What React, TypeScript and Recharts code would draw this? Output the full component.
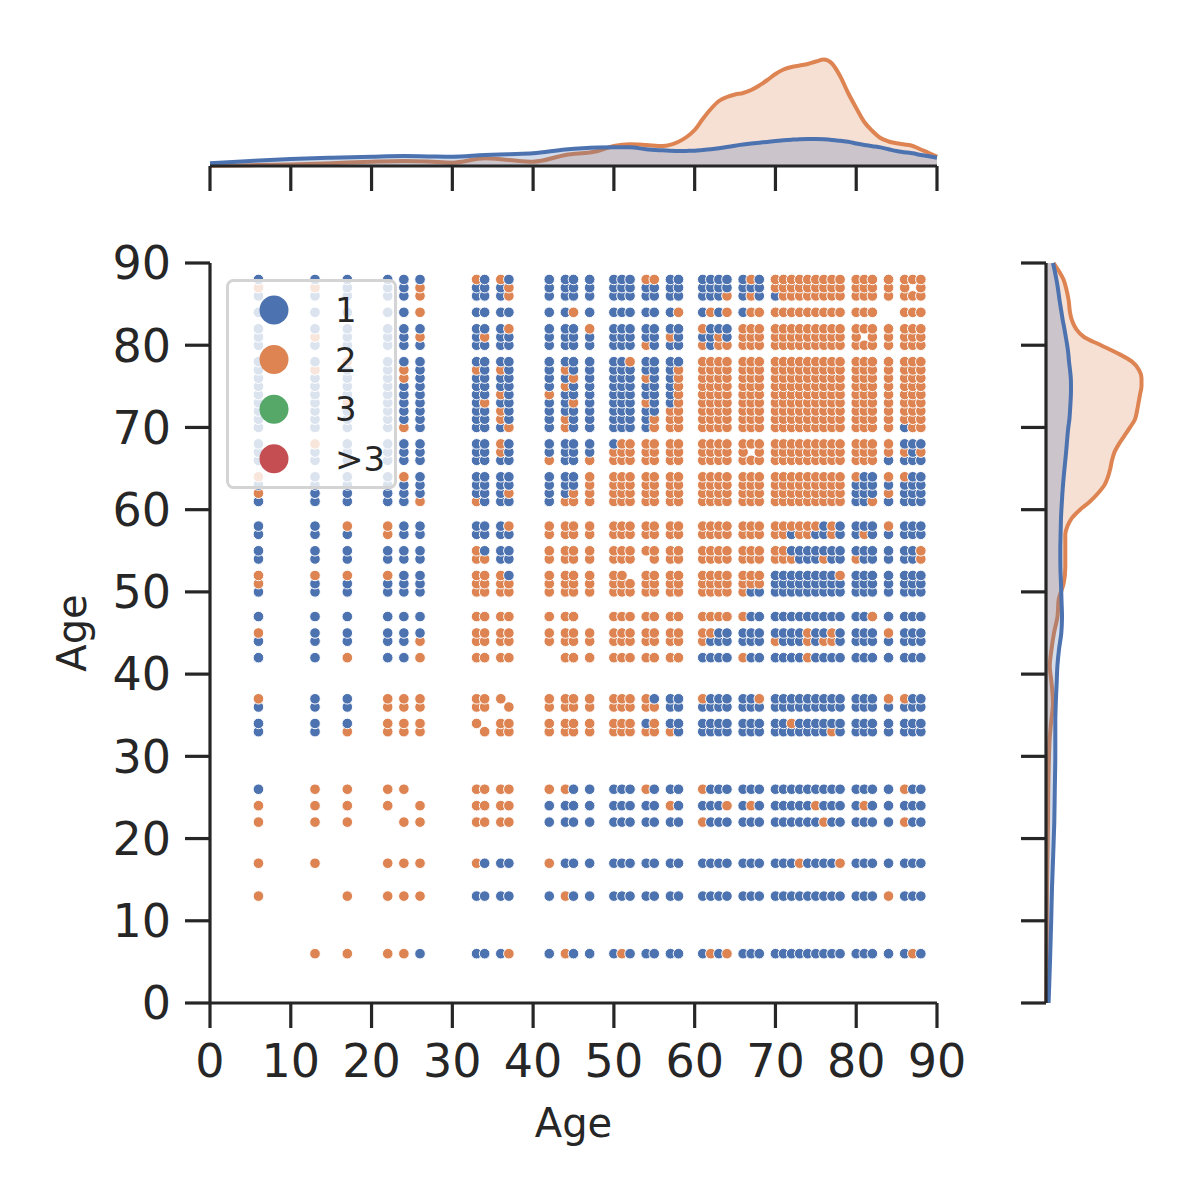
import React from 'react';
import { ScatterChart, Scatter, XAxis, YAxis, Legend, Label, AreaChart, Area } from 'recharts';

// ---------- data ----------
// Ages present on both axes (columns left→right, rows bottom→top)
const AGES = [6, 13, 17, 22, 24, 26, 33, 34, 36, 37, 42, 44, 45, 47, 50, 51, 52, 54, 55, 57, 58,
  61, 62, 63, 64, 66, 67, 68, 70, 71, 72, 73, 74, 75, 76, 77, 78, 80, 81, 82, 84, 86, 87, 88];

// Hue of each (x, y) point, rows listed from the top (age 88) to the bottom (age 6).
// b = "1", o = "2", . = no point. Spaces only separate the column clusters.
const HUE_GRID = [
  'b b b bbb obob bbbb bbboobb bbbb bob ooooooooo ooo o ooo', // 88
  'o o b bbo bbbo bbbb bbbbbbb bbbb bbb ooooooooo ooo o o.o', // 87
  'b b b bbo bbbo bbbb bbbbbbb bbbo bob boooooooo ooo o ooo', // 86
  'b b b bbo bbbb bbob bbbbbbo bobo boo ooooooooo ooo . ooo', // 84
  'b b b bbb bbbo bbbo bbbbbbb obbb ooo ooooooooo ooo o ooo', // 82
  'b o b bbo bobb bbbb bbbbbob bbob ooo ooooooooo o.o o ooo', // 81
  'b b b bbb bbbb bbbb bbbobbb oboo ooo ooooooooo ooo o ooo', // 80
  'b b o bbb bbbb bbbb bbobbbb oooo ooo ooooooooo ooo o ooo', // 78
  'b o b bob obob bobb bbbbbbo oooo ooo ooooooooo ooo o ooo', // 77
  'b b b bob bbbb bbob bbbobbo oooo ooo ooooooooo ooo o ooo', // 76
  'b b b bbb bbbb bobb bbbbbbo oooo ooo ooooooooo ooo o ooo', // 75
  'b b b bbb bbob obbb bbbbbbo oooo ooo ooooooooo ooo o ooo', // 74
  'b b o bbb bobb bbob bbbobbo oooo ooo ooooooooo ooo o ooo', // 73
  'b b b bbb bbob bbbb bbbbboo oooo ooo ooooooooo ooo o ooo', // 72
  'b b b bbb bbob bobb bbbbooo oooo ooo ooooooooo ooo o ooo', // 71
  'b b b bob bbbo bobb bbbbooo oooo ooo ooooooooo ooo o boo', // 70
  'b o b bbb bbob bbbb boooooo oooo ooo ooooooooo ooo o bbb', // 68
  'b b b bbb bbob bbbb ooooooo oooo o.o ooooooooo ooo o obo', // 67
  'b b b bbb bbbb obbo ooooooo oooo ooo ooooooooo ooo b bbb', // 66
  'o b b bob bbbb bbbo ooooooo oooo ooo ooooooooo obb o obb', // 64
  'b b b bbb bbbb bbbo ooooooo oooo ooo ooooooooo bbb b bbb', // 63
  'o b b bbb bbbo bboo ooooooo oooo ooo ooooooooo bbb o bbb', // 62
  'b b b bbo obbb booo ooooooo oooo ooo ooooooooo bbo b bbb', // 61
  'b b o obb bbbo oooo ooooooo oooo ooo oooooobob bbb o bbb', // 58
  'b b b obb bbbb oooo ooooooo oooo ooo ooboobbob bob b bbb', // 57
  'b b b bbb obbb oooo ooooooo oooo ooo oobbbbbbb bbb b bbo', // 55
  'b b b bbb oobb oooo ooo.ooo oooo ooo ooobbbobb obb b bbo', // 54
  'o o o obb ooob oooo oo.oooo oooo ooo bbbbbbbbo bbb b bbb', // 52
  'o b b bbb oooo oooo ooooooo oooo ooo bbbbbbbbb bbb b bbb', // 51
  'b b b bbb oooo oooo ooooooo oooo obb bbbbbbbbb bbb b bbb', // 50
  'b b b bbb oooo ooo. ooooooo oooo obb bbbbbbbbb bbo b bbb', // 47
  'o b b bbb oooo oooo ooooooo oobb bbb bbbbobbob bbb o bbb', // 45
  'b b b bbo oooo oooo ooooooo obbb bbb obbboboob bbb b bbb', // 44
  'b b o bbo oooo .ooo ooooooo bbbb obb bbbbobbbb bbb b bbb', // 42
  'o b b ooo ooo. oooo oooobbb obbb bbo bbbbbbbbb bbb o obb', // 37
  'b b b ooo oo.o oooo ooooobb bbbb bbb bbbbbbbbb bbb b bbb', // 36
  'b b b ooo o.oo oooo ooobobb bbbb bbb bbobbbbbb bbb b bbb', // 34
  'b b o ooo .ooo oooo oooooob bbbb bbb bbbbbbbob bbb b bbb', // 33
  'b o o oo. oooo oobb bbbobbb obbb bbb bbbbbbbbb bbb b obb', // 26
  'o o o o.o oooo bbbb bbbbbob bbbo bob bbbbbobbb bob b bbb', // 24
  'o o o .oo oooo bbbb bbbbbbb obbb bbb bbbbbbobb bbb b obb', // 22
  'o o . ooo obbb obbb bbbbbbb bbbb bbb bbbobbbbo bbb b bbb', // 17
  'o . o ooo bbbb bobb bbbbbbb bbbb bbb bbbbbbbbb bbb o bbb', // 13
  '. o o oob bbbo bobb bobbbbb bobo bbb bbbbbbbbb bbb b bob', // 6
];
const ROW_AGES = [...AGES].reverse();

const HUE_LABELS = ['1', '2', '3', '>3'];
const HUE_COLORS = ['#4c72b0', '#dd8452', '#55a868', '#c44e52'];
const HUE_CODE: Record<string, string> = { b: '1', o: '2' };

const AXIS_TICKS = [0, 10, 20, 30, 40, 50, 60, 70, 80, 90];

// Marginal KDE of x (top): age, hue "2" density, hue "1" density (arbitrary units)
const TOP_KDE_AGE = [0, 5, 10, 15, 20, 24, 27, 30, 34, 37, 40, 44, 48, 50, 52, 54, 56, 58, 59, 60, 61, 62, 63,
  64, 65, 66, 67, 68, 69, 70, 71, 72, 73, 74, 75, 76, 77, 78, 79, 80, 81, 82, 83, 84, 85, 86, 87, 88, 89, 90];
const TOP_KDE_HUE2 = [0.3, 0.8, 1.5, 2.8, 4.3, 5, 4.5, 3.3, 7.7, 6, 4.3, 11, 15, 20, 21.7, 21, 20, 24.3, 29, 36, 47, 57, 65,
  69, 71.5, 73, 76, 80.5, 86, 92, 96.5, 99, 100.5, 102, 104.5, 106.5, 102.5, 90, 73, 58, 44, 35, 28, 24.5, 22.7, 21.5, 20, 16.5, 13, 9.3];
const TOP_KDE_HUE1 = [2.7, 5, 7, 8.3, 9.3, 9.9, 9.6, 9.3, 11, 11.8, 12.7, 16.5, 18.5, 18.7, 18.7, 16.7, 15.7, 15, 15.1, 15.3, 16, 16.8, 17.8,
  19, 20.3, 21.4, 22.4, 23.3, 24.1, 25, 25.7, 26.3, 26.8, 27, 27, 26.7, 26.1, 25.2, 24.2, 22.5, 21, 19.8, 18.6, 16.8, 15, 13.8, 12.7, 11, 9.7, 8.3];

// Marginal KDE of y (right)
const RIGHT_KDE_AGE = [0, 5, 10, 14, 18, 22, 26, 30, 32, 34, 36.5, 39, 41, 43, 45, 47, 49, 51, 53, 55, 57, 58, 59, 60, 61,
  62, 63, 64, 65, 66, 67, 68, 69, 70, 71, 72, 73, 74, 75, 76, 77, 78, 79, 80, 81, 82, 83, 84, 85.5, 87, 88, 89, 90];
const RIGHT_KDE_HUE2 = [0.3, 0.6, 0.8, 1, 1.5, 2, 2.3, 3, 3.6, 5, 7, 5.5, 3.8, 5.5, 8, 11.5, 12.6, 17.6, 19.3, 19.3, 19.3, 21.5, 26, 34, 44,
  52, 58.5, 62, 64.3, 66, 68.5, 73, 78.5, 84, 89, 91, 92.5, 94, 95.5, 95.5, 93, 86, 72, 55, 38, 30, 26, 24, 22.6, 20, 17.5, 13, 7.6];
const RIGHT_KDE_HUE1 = [2.6, 4, 5.2, 6, 7.2, 8.3, 8.8, 9.3, 9.3, 9.3, 9.8, 10.7, 11.4, 13, 15.3, 16, 15.5, 15, 14.4, 14.3, 14.6, 14.8, 15, 15.4, 15.9,
  16.4, 17, 17.7, 18.5, 19.3, 20.1, 20.8, 21.5, 22.3, 23.4, 24, 24.5, 24.9, 25, 24.8, 24, 23, 22.3, 21.2, 19.8, 18.4, 16.8, 15.5, 13.5, 11.8, 10.4, 8.8, 7];

// ---------- derived tables ----------
const points: { x: number; y: number; hue: string }[] = [];
for (let r = HUE_GRID.length - 1; r >= 0; r--) {
  const row = HUE_GRID[r].replace(/ /g, '');
  for (let c = 0; c < AGES.length; c++) {
    const ch = row[c];
    if (ch && HUE_CODE[ch]) points.push({ x: AGES[c], y: ROW_AGES[r], hue: HUE_CODE[ch] });
  }
}
const topData = TOP_KDE_AGE.map((a, i) => ({ age: a, hue2: TOP_KDE_HUE2[i], hue1: TOP_KDE_HUE1[i] }));
const rightData = RIGHT_KDE_AGE.map((a, i) => ({ age: a, hue2: RIGHT_KDE_HUE2[i], hue1: RIGHT_KDE_HUE1[i] })).reverse();

// ---------- styles ----------
const FONT = '"DejaVu Sans", sans-serif';
const INK = '#262626';
const spine = { stroke: INK, strokeWidth: 3.2 };
const tickText = { fill: INK, fontSize: 46, fontFamily: FONT };

const EmptyTick = () => <g />;

const renderDot = (props: any) => {
  const { cx, cy, payload } = props;
  const color = HUE_COLORS[HUE_LABELS.indexOf(payload.hue)];
  return <circle cx={cx} cy={cy} r={5.3} fill={color} stroke="#ffffff" strokeWidth={1} />;
};

const XLabel = (props: any) => {
  const vb = props.viewBox;
  return (
    <text x={vb.x + vb.width / 2} y={vb.y + 134} textAnchor="middle" fontSize={40} fill={INK} fontFamily={FONT}>
      Age
    </text>
  );
};
const YLabel = (props: any) => {
  const vb = props.viewBox;
  const cx = vb.x + 12;
  const cy = vb.y + vb.height / 2;
  return (
    <text x={cx} y={cy} transform={`rotate(-90 ${cx} ${cy})`} textAnchor="middle" dominantBaseline="central"
      fontSize={40} fill={INK} fontFamily={FONT}>
      Age
    </text>
  );
};

const LegendBox = () => (
  <svg width={171} height={210} style={{ display: 'block' }}>
    <rect x={1.5} y={1.5} width={168} height={207} rx={6} ry={6} fill="#ffffff" fillOpacity={0.8} stroke="#d4d4d4" strokeWidth={3} />
    {HUE_LABELS.map((lab, i) => (
      <g key={lab}>
        <circle cx={48} cy={31 + 49.6 * i} r={14.5} fill={HUE_COLORS[i]} />
        <text x={109} y={31 + 49.6 * i} dominantBaseline="central" fontSize={34} fill={INK} fontFamily={FONT}>
          {lab}
        </text>
      </g>
    ))}
  </svg>
);

export default function App() {
  return (
    <div style={{ position: 'absolute', left: 0, top: 0, width: 1200, height: 1200, background: '#ffffff' }}>
      <div style={{ position: 'absolute', left: 0, top: 0 }}>
        <ScatterChart width={1200} height={1200} margin={{ top: 263, right: 263, bottom: 47, left: 60 }}>
          <XAxis type="number" dataKey="x" domain={[0, 90]} ticks={AXIS_TICKS} interval={0} height={150}
            tickSize={25} tickMargin={16} axisLine={spine} tickLine={spine} tick={tickText} allowDataOverflow>
            <Label content={XLabel} />
          </XAxis>
          <YAxis type="number" dataKey="y" domain={[0, 90]} ticks={AXIS_TICKS} interval={0} width={150}
            tickSize={25} tickMargin={14} axisLine={spine} tickLine={spine} tick={tickText} allowDataOverflow>
            <Label content={YLabel} />
          </YAxis>
          <Scatter data={points} isAnimationActive={false} shape={renderDot} />
          <Legend content={LegendBox} layout="vertical" align="center" verticalAlign="middle"
            wrapperStyle={{ left: 226, top: 279, width: 171, height: 210 }} />
        </ScatterChart>
      </div>

      <div style={{ position: 'absolute', left: 0, top: 0 }}>
        <AreaChart width={1200} height={200} data={topData} margin={{ top: 46, right: 263, bottom: 0, left: 210 }}>
          <Area dataKey="hue2" type="monotone" stroke="#dd8452" strokeWidth={4} fill="#dd8452" fillOpacity={0.25}
            isAnimationActive={false} dot={false} activeDot={false} />
          <Area dataKey="hue1" type="monotone" stroke="#4c72b0" strokeWidth={4} fill="#4c72b0" fillOpacity={0.25}
            isAnimationActive={false} dot={false} activeDot={false} />
          <XAxis type="number" dataKey="age" domain={[0, 90]} ticks={AXIS_TICKS} interval={0} height={34}
            tickSize={25} tick={EmptyTick} axisLine={spine} tickLine={spine} />
          <YAxis type="number" domain={[0, 120]} hide />
        </AreaChart>
      </div>

      <div style={{ position: 'absolute', left: 1000, top: 0 }}>
        <AreaChart layout="vertical" width={200} height={1200} data={rightData}
          margin={{ top: 263, right: 34, bottom: 197, left: 16 }}>
          <Area dataKey="hue2" type="monotone" stroke="#dd8452" strokeWidth={4} fill="#dd8452" fillOpacity={0.25}
            isAnimationActive={false} dot={false} activeDot={false} />
          <Area dataKey="hue1" type="monotone" stroke="#4c72b0" strokeWidth={4} fill="#4c72b0" fillOpacity={0.25}
            isAnimationActive={false} dot={false} activeDot={false} />
          <XAxis type="number" domain={[0, 120]} hide />
          <YAxis type="number" dataKey="age" domain={[0, 90]} ticks={AXIS_TICKS} interval={0} width={30} reversed
            tickSize={25} tick={EmptyTick} axisLine={spine} tickLine={spine} />
        </AreaChart>
      </div>
    </div>
  );
}
